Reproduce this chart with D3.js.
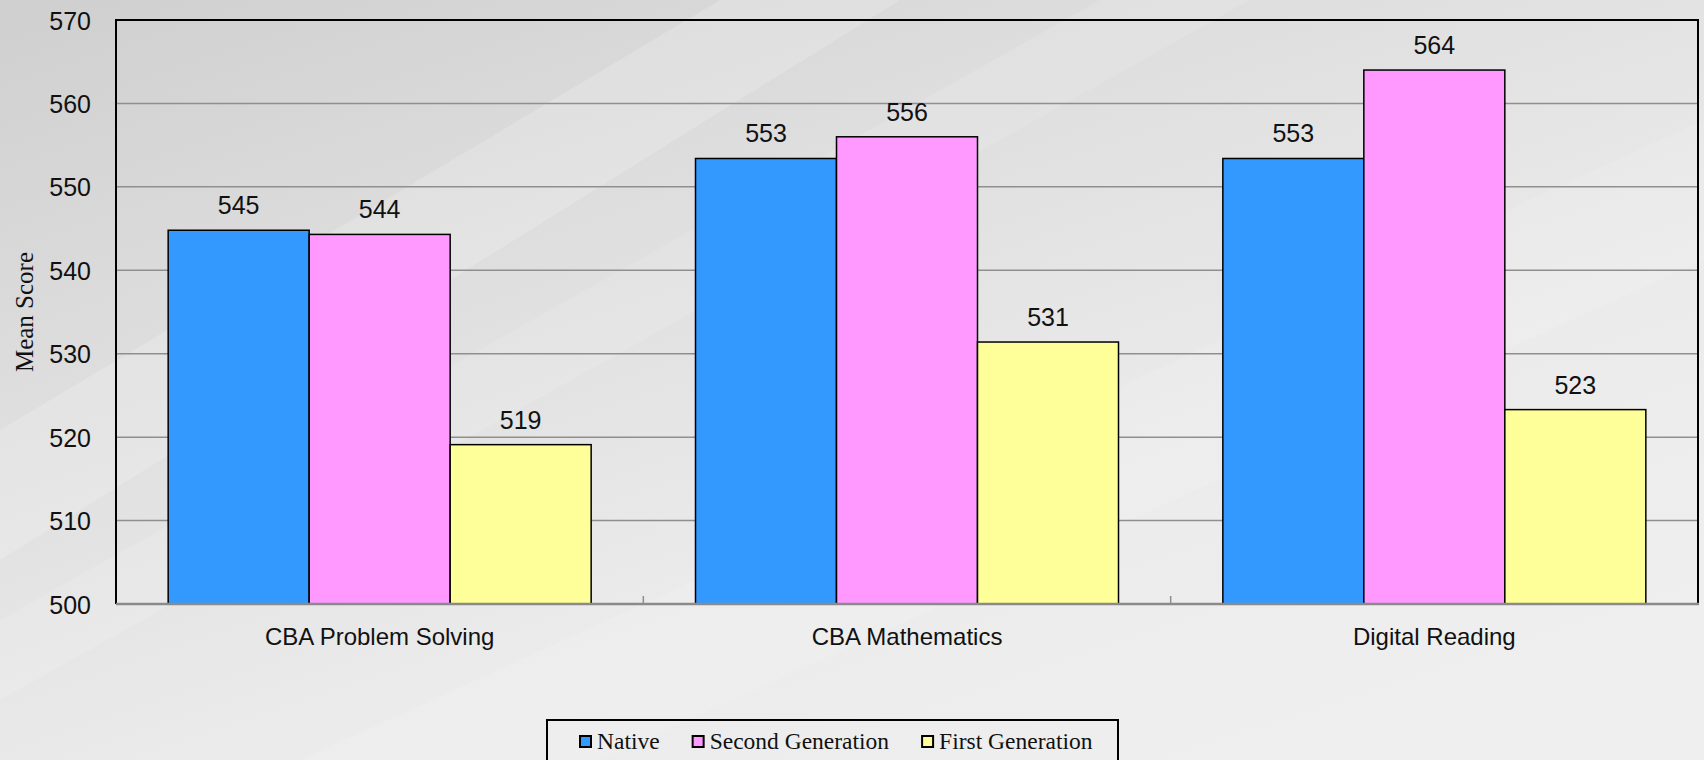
<!DOCTYPE html>
<html>
<head>
<meta charset="utf-8">
<script src="https://cdn.jsdelivr.net/npm/d3@7"></script>
<style>
  body { margin: 0; overflow: hidden; background: #e6e6e6; }
  svg { display: block; }
</style>
</head>
<body>
<svg id="chart" width="1704" height="760"></svg>
<script>
// chart values
let categories = ['CBA Problem Solving', 'CBA Mathematics', 'Digital Reading']
let seriesNames = ['Native', 'Second Generation', 'First Generation']
let nativeScores = [544.8, 553.4, 553.4]
let secondGenScores = [544.3, 556.0, 564.0]
let firstGenScores = [519.1, 531.4, 523.3]
let yTicks = [500, 510, 520, 530, 540, 550, 560, 570]
let seriesColors = ['#3399ff', '#ff99ff', '#ffff99']

let width = 1704
let height = 760
let margin = { top: 20, right: 6, bottom: 156, left: 116 }
let numFont = '"Liberation Sans", Arial, sans-serif'
let serifFont = '"Liberation Serif", "Times New Roman", serif'

let svg = d3.select('#chart')

/*** background ***/
let defs = svg.append('defs')
let bg = defs.append('linearGradient').attr('id', 'bg')
  .attr('x1', '0').attr('y1', '0').attr('x2', '0.75').attr('y2', '1')
bg.append('stop').attr('offset', '0').attr('stop-color', '#cfcfcf')
bg.append('stop').attr('offset', '0.35').attr('stop-color', '#dedede')
bg.append('stop').attr('offset', '0.7').attr('stop-color', '#ebebeb')
bg.append('stop').attr('offset', '1').attr('stop-color', '#efefef')

svg.append('rect').attr('width', width).attr('height', height).attr('fill', 'url(#bg)')
// faint diagonal streaks
svg.append('path').attr('d', 'M0,430 L720,0 L900,0 L0,560 Z').attr('fill', '#ffffff').attr('opacity', 0.18)
svg.append('path').attr('d', 'M0,620 L1100,0 L1250,0 L0,700 Z').attr('fill', '#ffffff').attr('opacity', 0.12)
svg.append('path').attr('d', 'M300,760 L1704,120 L1704,260 L600,760 Z').attr('fill', '#ffffff').attr('opacity', 0.1)

/*** scales ***/
let x0 = d3.scaleBand()
  .domain(categories)
  .range([margin.left, width - margin.right])
  .paddingInner(0)
  .paddingOuter(0)

let x1 = d3.scaleBand()
  .domain(seriesNames)
  .range([0, x0.bandwidth()])
  .paddingInner(0)
  .paddingOuter(0.37)

let y = d3.scaleLinear()
  .domain([500, 570])
  .range([height - margin.bottom, margin.top])

let color = d3.scaleOrdinal().domain(seriesNames).range(seriesColors)

let seriesValues = [nativeScores, secondGenScores, firstGenScores]
let rows = categories.map((c, i) => ({
  category: c,
  values: seriesNames.map((s, j) => ({ series: s, value: seriesValues[j][i] }))
}))

/*** grid ***/
svg.append('g')
  .selectAll('line')
  .data(yTicks.filter(t => t > 500 && t < 570))
  .enter()
  .append('line')
  .attr('x1', margin.left)
  .attr('x2', width - margin.right)
  .attr('y1', d => y(d))
  .attr('y2', d => y(d))
  .attr('stroke', '#8f8f8f')
  .attr('stroke-width', 1.5)

/*** bars ***/
let groups = svg.append('g')
  .selectAll('.group')
  .data(rows)
  .enter()
  .append('g')
  .attr('class', 'group')
  .attr('transform', d => `translate(${x0(d.category)},0)`)

groups.selectAll('rect')
  .data(d => d.values)
  .enter()
  .append('rect')
  .attr('x', d => x1(d.series))
  .attr('y', d => y(d.value))
  .attr('width', x1.bandwidth())
  .attr('height', d => y(500) - y(d.value))
  .attr('fill', d => color(d.series))
  .attr('stroke', '#000')
  .attr('stroke-width', 1.5)

groups.selectAll('.val')
  .data(d => d.values)
  .enter()
  .append('text')
  .attr('class', 'val')
  .attr('x', d => x1(d.series) + x1.bandwidth() / 2)
  .attr('y', d => y(d.value) - 16)
  .attr('text-anchor', 'middle')
  .attr('font-family', numFont)
  .attr('font-size', 25)
  .attr('fill', '#111')
  .text(d => Math.round(d.value))

/*** axes ***/
let yAxis = d3.axisLeft(y).tickValues(yTicks).tickSize(0).tickPadding(25)
let yg = svg.append('g').attr('transform', `translate(${margin.left},0)`).call(yAxis)
yg.select('.domain').remove()
yg.selectAll('text')
  .attr('font-family', numFont)
  .attr('font-size', 25)
  .attr('fill', '#111')
  .attr('dy', '0.36em')

let xAxis = d3.axisBottom(x0).tickSize(0).tickPadding(24)
let xg = svg.append('g').attr('transform', `translate(0,${y(500)})`).call(xAxis)
xg.select('.domain').remove()
xg.selectAll('text')
  .attr('font-family', numFont)
  .attr('font-size', 24)
  .attr('fill', '#111')

// small tick marks between categories
svg.append('g')
  .selectAll('line')
  .data(categories.slice(1))
  .enter()
  .append('line')
  .attr('x1', d => x0(d))
  .attr('x2', d => x0(d))
  .attr('y1', y(500))
  .attr('y2', y(500) - 8)
  .attr('stroke', '#8f8f8f')
  .attr('stroke-width', 1.5)

// plot frame
let plotLeft = margin.left
let plotRight = width - margin.right
let plotTop = y(570)
let plotBottom = y(500)
svg.append('path')
  .attr('d', `M${plotLeft},${plotBottom} L${plotLeft},${plotTop} L${plotRight},${plotTop} L${plotRight},${plotBottom}`)
  .attr('fill', 'none')
  .attr('stroke', '#000')
  .attr('stroke-width', 2)
svg.append('line')
  .attr('x1', plotLeft).attr('x2', plotRight + 1)
  .attr('y1', plotBottom).attr('y2', plotBottom)
  .attr('stroke', '#8a8a8a')
  .attr('stroke-width', 2.5)

// y axis title
svg.append('text')
  .attr('transform', `translate(33,${(plotTop + plotBottom) / 2}) rotate(-90)`)
  .attr('text-anchor', 'middle')
  .attr('font-family', serifFont)
  .attr('font-size', 25)
  .attr('fill', '#111')
  .text('Mean Score')

/*** legend ***/
let legend = svg.append('g').attr('id', 'legend')
legend.append('rect')
  .attr('x', 547).attr('y', 720)
  .attr('width', 571).attr('height', 60)
  .attr('fill', 'none')
  .attr('stroke', '#000')
  .attr('stroke-width', 2)

let items = legend.selectAll('.item')
  .data(seriesNames)
  .enter()
  .append('g')
  .attr('class', 'item')

items.append('text')
  .attr('y', 749)
  .attr('font-family', serifFont)
  .attr('font-size', 23.5)
  .attr('fill', '#111')
  .text(d => d)

// lay out legend entries from their text widths
let cursor = 579
items.each(function (d) {
  let g = d3.select(this)
  g.append('rect')
    .attr('x', cursor + 1).attr('y', 736)
    .attr('width', 11).attr('height', 11)
    .attr('fill', color(d))
    .attr('stroke', '#000')
    .attr('stroke-width', 2)
  let t = g.select('text').attr('x', cursor + 18)
  cursor += 18 + t.node().getComputedTextLength() + 32
})
</script>
</body>
</html>
